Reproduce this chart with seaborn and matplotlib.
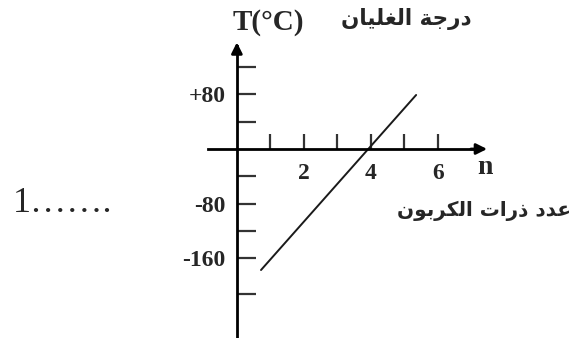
import matplotlib
matplotlib.use("Agg")
import matplotlib.pyplot as plt
import seaborn as sns

# boiling point vs number of carbon atoms (straight line)
n_atoms = [0.72, 5.35]
boil_T = [-177, 79]

x_ticks = [1, 2, 3, 4, 5, 6]
x_labels = ["", "2", "", "4", "", "6"]
y_ticks = [120, 80, 40, -40, -80, -120, -160, -212]
y_labels = ["", "+80", "", "", "-80", "", "-160", ""]

# Arabic titles, written in presentation forms (visual order) since matplotlib does no shaping
title_T = "\uFEE5\uFE8E\uFEF4\uFEE0\uFED0\uFEDF\uFE8D \uFE94\uFE9F\uFEAD\uFEA9"          # درجة الغليان
title_n = ("\uFEE5\uFEEE\uFE91\uFEAE\uFEDC\uFEDF\uFE8D \uFE95\uFE8D\uFEAD\uFEAB "
           "\uFEA9\uFEAA\uFECB")                                                           # عدد ذرات الكربون

sns.set_style("white")
plt.rcParams["font.family"] = ["Liberation Serif", "DejaVu Serif"]

fig = plt.figure(figsize=(5.86, 3.38), dpi=100)
ax = fig.add_axes([0, 0, 1, 1])
ax.set_xlim(-7.07, 10.42)
ax.set_ylim(-276.4, 217.9)

sns.lineplot(x=n_atoms, y=boil_T, color="#1a1a1a", linewidth=1.4, ax=ax)

for s in ["top", "right"]:
    ax.spines[s].set_visible(False)
ax.spines["left"].set_position(("data", 0))
ax.spines["bottom"].set_position(("data", 0))
ax.spines["left"].set_bounds(-276.4, 150)
ax.spines["bottom"].set_bounds(-0.87, 7.2)
for s in ["left", "bottom"]:
    ax.spines[s].set_linewidth(2)
    ax.spines[s].set_color("black")

ax.annotate("", xy=(0, 160), xytext=(0, 135),
            arrowprops=dict(arrowstyle="-|>", color="black", lw=2, mutation_scale=16))
ax.annotate("", xy=(7.55, 0), xytext=(6.9, 0),
            arrowprops=dict(arrowstyle="-|>", color="black", lw=2, mutation_scale=16))

ax.set_xticks(x_ticks)
ax.set_xticklabels(x_labels, fontweight="bold", fontsize=17)
ax.set_yticks(y_ticks)
ax.set_yticklabels(y_labels, fontweight="bold", fontsize=17)
ax.tick_params(axis="y", left=True, direction="in", length=14, width=1.6, pad=8, color="#333333")
ax.tick_params(axis="x", bottom=True, direction="in", length=11, width=1.6, pad=10, color="#333333")
ax.set_xlabel("")
ax.set_ylabel("")

ax.text(268 / 586, 1 - 23 / 338, "T(\u00b0C)", transform=ax.transAxes, ha="center", va="center",
        fontsize=21, fontweight="bold")
ax.text(485 / 586, 1 - 168 / 338, "n", transform=ax.transAxes, ha="center", va="center",
        fontsize=20, fontweight="bold")
ax.text(406 / 586, 1 - 19 / 338, title_T, transform=ax.transAxes, ha="center", va="center",
        fontsize=15.5, fontweight="bold", family=["DejaVu Sans"])
ax.text(397 / 586, 1 - 211 / 338, title_n, transform=ax.transAxes, ha="left", va="center",
        fontsize=14.4, fontweight="bold", family=["DejaVu Sans"])
ax.text(13 / 586, 1 - 212 / 338, "1\u2026\u2026.", transform=ax.transAxes, ha="left", va="baseline",
        fontsize=26)

fig.savefig("out.png", dpi=100)
